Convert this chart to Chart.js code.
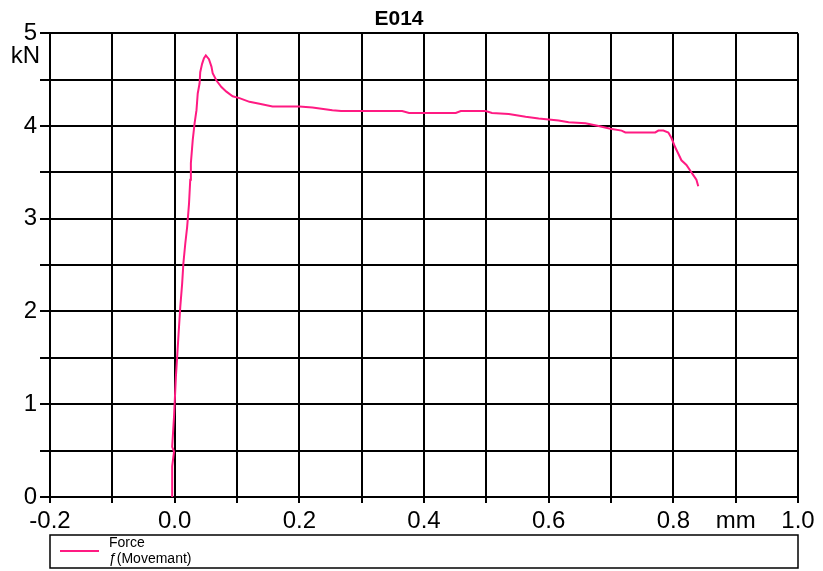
<!DOCTYPE html>
<html>
<head>
<meta charset="utf-8">
<script src="https://cdn.jsdelivr.net/npm/chart.js@4/dist/chart.umd.min.js"></script>
<style>
  body { margin: 0; background: #fff; }
  #wrap { width: 823px; height: 571px; }
</style>
</head>
<body>
<div id="wrap"><canvas id="forceChart"></canvas></div>
<script>
// Force vs movement
const movement = [
  -0.004, -0.004, -0.001, -0.004, -0.001, 0.002, 0.004, 0.006, 0.009, 0.012,
  0.014, 0.017, 0.020, 0.023, 0.025, 0.026, 0.029, 0.032, 0.035, 0.037,
  0.040, 0.041, 0.044, 0.047, 0.050, 0.055, 0.059, 0.061, 0.067, 0.075,
  0.083, 0.093, 0.104, 0.120, 0.136, 0.157, 0.200, 0.221, 0.253, 0.267,
  0.365, 0.376, 0.451, 0.459, 0.499, 0.509, 0.536, 0.563, 0.584, 0.600,
  0.616, 0.632, 0.659, 0.680, 0.699, 0.717, 0.723, 0.771, 0.776, 0.784,
  0.792, 0.797, 0.803, 0.808, 0.813, 0.821, 0.827, 0.832, 0.837, 0.840
];
const force = [
  0.00, 0.33, 0.49, 0.54, 0.87, 1.30, 1.51, 1.73, 2.05, 2.30,
  2.52, 2.73, 2.91, 3.16, 3.42, 3.60, 3.85, 4.03, 4.17, 4.35,
  4.46, 4.58, 4.67, 4.73, 4.76, 4.72, 4.64, 4.57, 4.49, 4.42,
  4.37, 4.32, 4.30, 4.26, 4.24, 4.21, 4.21, 4.20, 4.17, 4.16,
  4.16, 4.14, 4.14, 4.16, 4.16, 4.14, 4.13, 4.10, 4.08, 4.07,
  4.06, 4.04, 4.03, 4.00, 3.97, 3.95, 3.93, 3.93, 3.95, 3.95,
  3.93, 3.87, 3.77, 3.70, 3.63, 3.58, 3.52, 3.47, 3.42, 3.35
];
const chartTitle = 'E014';
const xUnit = 'mm';
const yUnit = 'kN';
const legendLines = ['Force', 'ƒ(Movemant)'];

const FONT = 'Liberation Sans, Arial, sans-serif';
const points = movement.map((x, i) => ({ x: x, y: force[i] }));

// white background, unit label and the boxed legend under the plot
const extras = {
  id: 'extras',
  beforeDraw(chart) {
    const c = chart.ctx;
    c.save();
    c.fillStyle = '#fff';
    c.fillRect(0, 0, chart.width, chart.height);
    c.restore();
  },
  afterDraw(chart) {
    const c = chart.ctx;
    const area = chart.chartArea;
    const yScale = chart.scales.y;
    c.save();
    c.fillStyle = '#000';
    c.font = '24px ' + FONT;
    c.textAlign = 'right';
    c.textBaseline = 'middle';
    c.fillText(yUnit, area.left - 10, yScale.getPixelForValue(5) + 23);

    // legend box
    const top = area.bottom + 38;
    c.strokeStyle = '#000';
    c.lineWidth = 1.5;
    c.strokeRect(area.left, top, area.right - area.left, 33);
    c.strokeStyle = chart.data.datasets[0].borderColor;
    c.lineWidth = 2;
    c.beginPath();
    c.moveTo(area.left + 10, top + 16);
    c.lineTo(area.left + 49, top + 16);
    c.stroke();
    c.font = '14px ' + FONT;
    c.textAlign = 'left';
    c.fillText(legendLines[0], area.left + 59, top + 8);
    c.fillText(legendLines[1], area.left + 59, top + 24);
    c.restore();
  }
};

const ctx = document.getElementById('forceChart').getContext('2d');
new Chart(ctx, {
  type: 'scatter',
  data: {
    datasets: [{
      label: legendLines[0],
      data: points,
      showLine: true,
      borderColor: '#ff1a82',
      borderWidth: 2,
      pointRadius: 0,
      tension: 0
    }]
  },
  options: {
    responsive: true,
    maintainAspectRatio: false,
    animation: false,
    layout: { padding: { left: 0, right: 25, top: 0, bottom: 40 } },
    plugins: {
      legend: { display: false },
      tooltip: { enabled: false },
      title: {
        display: true,
        text: chartTitle,
        color: '#000',
        font: { family: FONT, size: 21, weight: 'bold' },
        padding: { top: 7, bottom: 1 }
      }
    },
    scales: {
      x: {
        type: 'linear',
        min: -0.2,
        max: 1.0,
        afterFit(scale) { scale.height = 34; },
        border: { color: '#000', width: 2 },
        grid: { color: '#000', lineWidth: 2, tickLength: 6 },
        ticks: {
          stepSize: 0.1,
          autoSkip: false,
          maxRotation: 0,
          padding: 4,
          color: '#000',
          font: { family: FONT, size: 24 },
          callback(value) {
            const t = Math.round(value * 10);
            if (t === 9) return xUnit;
            return t % 2 === 0 ? (t / 10).toFixed(1) : '';
          }
        }
      },
      y: {
        min: 0,
        max: 5,
        afterFit(scale) { scale.width = 50; },
        border: { color: '#000', width: 2 },
        grid: { color: '#000', lineWidth: 2, tickLength: 10 },
        ticks: {
          stepSize: 0.5,
          autoSkip: false,
          padding: 3,
          color: '#000',
          font: { family: FONT, size: 24 },
          callback(value) {
            return Number.isInteger(value) ? String(value) : '';
          }
        }
      }
    }
  },
  plugins: [extras]
});
</script>
</body>
</html>
